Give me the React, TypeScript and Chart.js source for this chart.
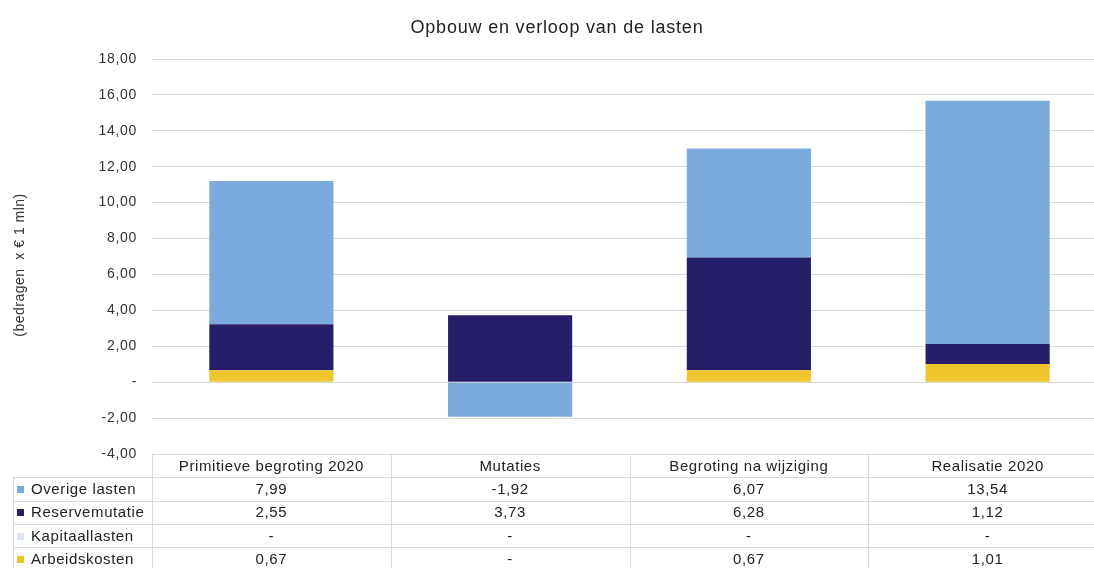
import React, { useEffect, useRef } from "react";
import { Chart, registerables } from "chart.js";

Chart.register(...registerables);

const title = "Opbouw en verloop van de lasten";
const yAxisTitle = "(bedragen  x € 1 mln)";
const categories = ["Primitieve begroting 2020", "Mutaties", "Begroting na wijziging", "Realisatie 2020"];
const seriesNames = ["Overige lasten", "Reservemutatie", "Kapitaallasten", "Arbeidskosten"];
const overigeLasten = [7.99, -1.92, 6.07, 13.54];
const reservemutatie = [2.55, 3.73, 6.28, 1.12];
const kapitaallasten = [0, 0, 0, 0];
const arbeidskosten = [0.67, 0, 0.67, 1.01];
const yTicks = [-4, -2, 0, 2, 4, 6, 8, 10, 12, 14, 16, 18];

const colors = ["#7BAADC", "#271E69", "#DCE6F2", "#F0C62E"];
const FONT = "'Liberation Sans', Arial, sans-serif";

const fmt = (v: number) => (v === 0 ? "-" : v.toFixed(2).replace(".", ","));

const tablePlugin = {
  id: "dataTable",
  beforeDraw(chart: any) {
    chart.ctx.letterSpacing = "0.7px";
  },
  afterDraw(chart: any) {
    const ctx = chart.ctx;
    const x = chart.scales.x;
    const area = chart.chartArea;
    const rows = [overigeLasten, reservemutatie, kapitaallasten, arbeidskosten];
    const top = area.bottom;
    const rowH = 23.3;
    const bottom = chart.height + 2;
    const catW = (area.right - area.left) / categories.length;
    ctx.save();
    ctx.strokeStyle = "#d9d9d9";
    ctx.lineWidth = 1;
    for (let r = 1; r <= 5; r++) {
      const y = Math.round(top + r * rowH) + 0.5;
      ctx.beginPath();
      ctx.moveTo(13, y);
      ctx.lineTo(chart.width, y);
      ctx.stroke();
    }
    ctx.beginPath();
    ctx.moveTo(13.5, Math.round(top + rowH));
    ctx.lineTo(13.5, bottom);
    ctx.stroke();
    for (let i = 0; i <= categories.length; i++) {
      const xb = Math.round(x.getPixelForValue(i) - catW / 2) + 0.5;
      ctx.beginPath();
      ctx.moveTo(xb, top);
      ctx.lineTo(xb, bottom);
      ctx.stroke();
    }
    // title
    ctx.letterSpacing = "0.8px";
    ctx.fillStyle = "#222";
    ctx.font = `18px ${FONT}`;
    ctx.textBaseline = "middle";
    ctx.textAlign = "center";
    ctx.fillText(title, 557, 28);

    ctx.letterSpacing = "0.6px";
    ctx.font = `15px ${FONT}`;
    categories.forEach((c, i) => {
      ctx.fillText(c, x.getPixelForValue(i), top + rowH / 2 + 1);
    });
    rows.forEach((vals, r) => {
      const yc = top + (r + 1) * rowH + rowH / 2 + 1;
      ctx.fillStyle = colors[r];
      ctx.fillRect(17, Math.round(yc - 4), 7, 7);
      ctx.fillStyle = "#222";
      ctx.textAlign = "left";
      ctx.fillText(seriesNames[r], 31, yc);
      ctx.textAlign = "center";
      vals.forEach((v, i) => {
        ctx.fillText(fmt(v), x.getPixelForValue(i), yc);
      });
    });
    ctx.translate(20, 265);
    ctx.rotate(-Math.PI / 2);
    ctx.textAlign = "center";
    ctx.letterSpacing = "0.5px";
    ctx.font = `14px ${FONT}`;
    ctx.fillStyle = "#333";
    ctx.fillText(yAxisTitle, 0, 0);
    ctx.restore();
  },
};

export default function App() {
  const ref = useRef<HTMLCanvasElement>(null);
  useEffect(() => {
    if (!ref.current) return;
    const chart = new Chart(ref.current, {
      type: "bar",
      data: {
        labels: categories,
        datasets: [
          { label: seriesNames[3], data: arbeidskosten, backgroundColor: colors[3] },
          { label: seriesNames[2], data: kapitaallasten, backgroundColor: colors[2] },
          { label: seriesNames[1], data: reservemutatie, backgroundColor: colors[1] },
          { label: seriesNames[0], data: overigeLasten, backgroundColor: colors[0] },
        ],
      },
      options: {
        animation: false,
        responsive: false,
        devicePixelRatio: 1,
        layout: { padding: { left: 0, right: 15, top: 59, bottom: 0 } },
        datasets: { bar: { categoryPercentage: 1, barPercentage: 0.52, borderWidth: 0 } },
        plugins: {
          legend: { display: false },
          tooltip: { enabled: false },
          title: { display: false },
        },
        scales: {
          x: {
            stacked: true,
            ticks: { display: false },
            grid: { display: false },
            border: { display: false },
            afterFit: (s: any) => {
              s.height = 114;
            },
          },
          y: {
            stacked: true,
            min: -4,
            max: 18,
            afterBuildTicks: (s: any) => {
              s.ticks = yTicks.map((v) => ({ value: v }));
            },
            ticks: {
              padding: 15,
              color: "#333",
              font: { family: FONT, size: 14 },
              callback: (v: any) => fmt(Number(v)),
            },
            grid: { color: "#d9d9d9", drawTicks: false },
            border: { display: false },
            afterFit: (s: any) => {
              s.width = 152;
            },
          },
        },
      },
      plugins: [tablePlugin],
    });
    return () => chart.destroy();
  }, []);
  return (
    <div style={{ position: "fixed", left: 0, top: 0, width: 1094, height: 568, overflow: "hidden", background: "#fff" }}>
      <canvas ref={ref} width={1122} height={568} style={{ display: "block" }} />
    </div>
  );
}
